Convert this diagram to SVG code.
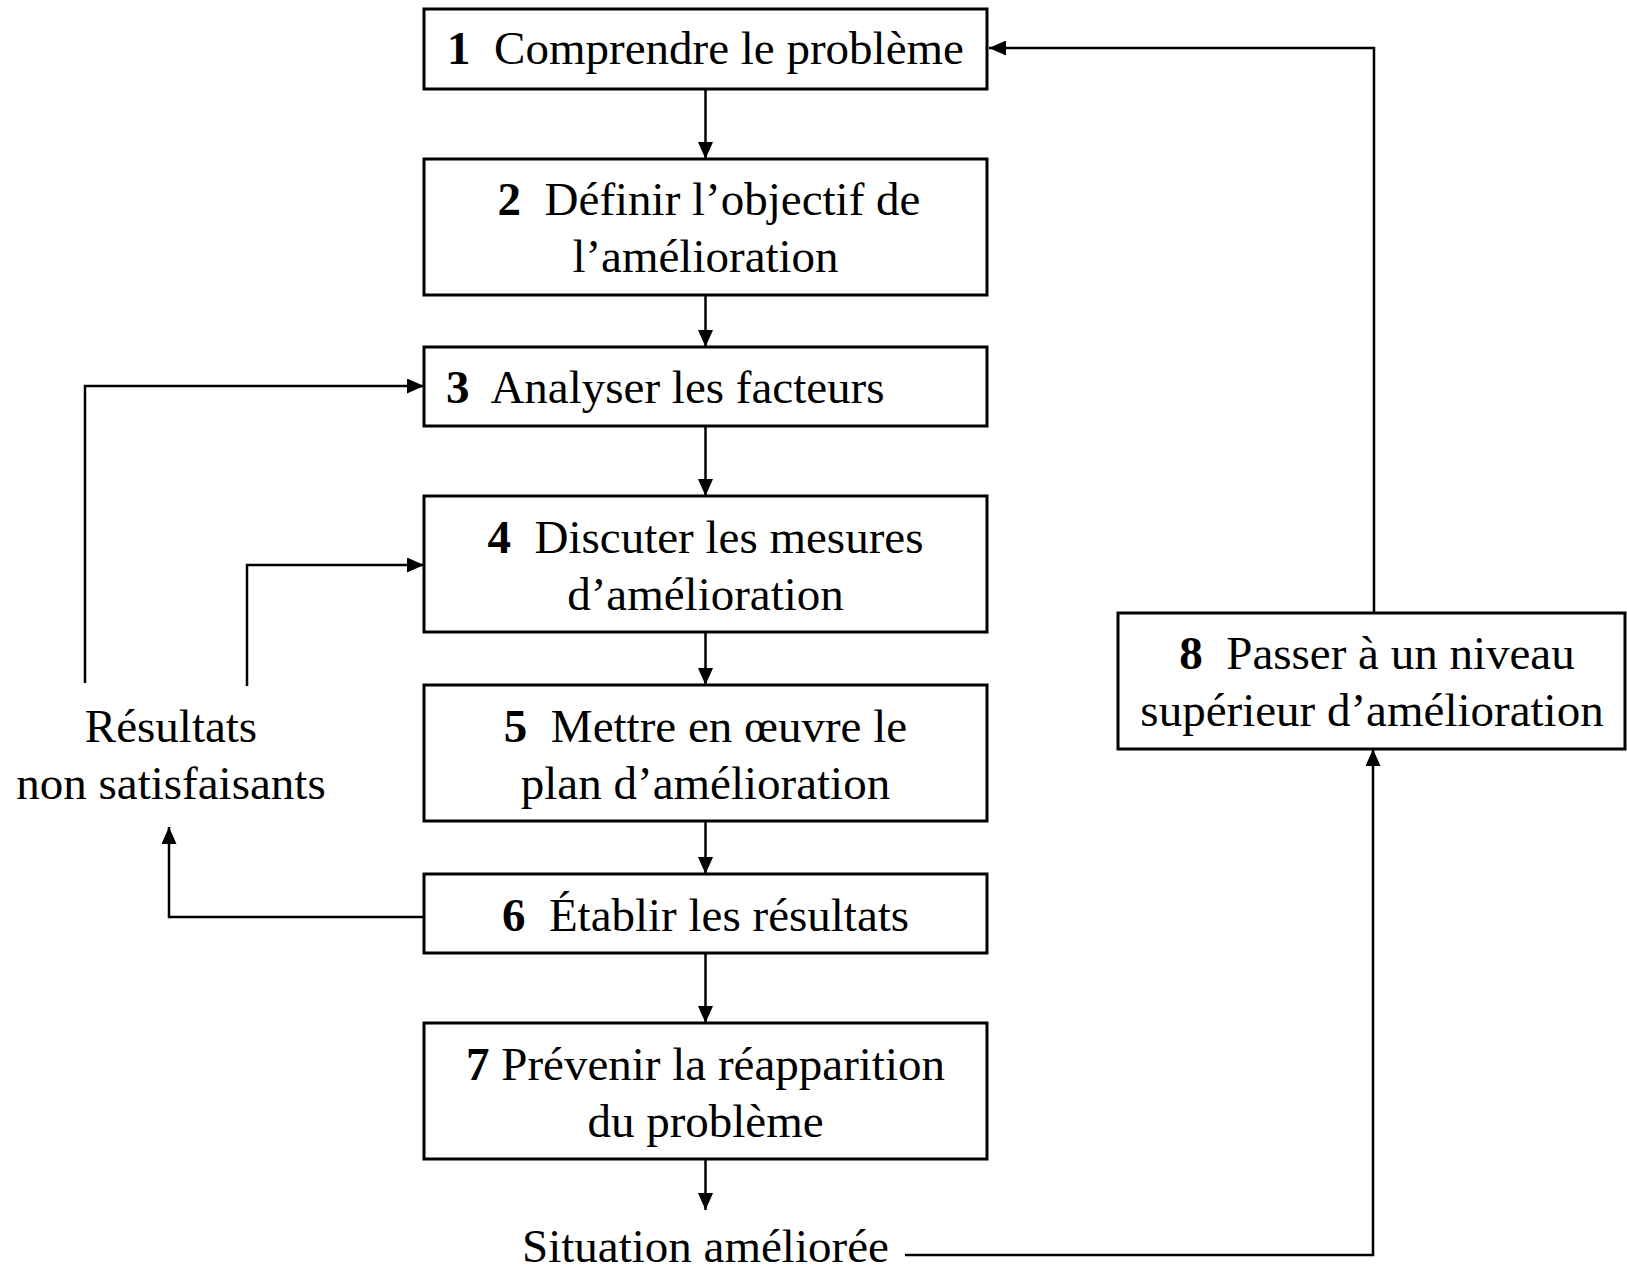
<svg xmlns="http://www.w3.org/2000/svg" width="1627" height="1271" viewBox="0 0 1627 1271">
  <defs>
    <marker id="arrow" markerUnits="userSpaceOnUse" markerWidth="18" markerHeight="15" refX="17" refY="7.5" orient="auto">
      <path d="M0,0 L17,7.5 L0,15 z" fill="#000"/>
    </marker>
    <style>
      .box { fill: #fff; stroke: #000; stroke-width: 3; }
      .lbl { font-family: "Liberation Serif", "Times New Roman", serif; font-size: 47px; fill: #000; }
      .mid { text-anchor: middle; }
      .num { font-weight: bold; }
      .link { fill: none; stroke: #000; stroke-width: 2.5; }
      .head { marker-end: url(#arrow); }
    </style>
  </defs>
  <rect width="1627" height="1271" fill="#fff"/>

  <g id="connectors">
    <!-- main chain -->
    <line class="link head" x1="705.5" y1="89" x2="705.5" y2="159"/>
    <line class="link head" x1="705.5" y1="295" x2="705.5" y2="347"/>
    <line class="link head" x1="705.5" y1="426" x2="705.5" y2="496"/>
    <line class="link head" x1="705.5" y1="632" x2="705.5" y2="685"/>
    <line class="link head" x1="705.5" y1="821" x2="705.5" y2="874"/>
    <line class="link head" x1="705.5" y1="953" x2="705.5" y2="1023"/>
    <line class="link head" x1="705.5" y1="1159" x2="705.5" y2="1210"/>
    <!-- unsatisfactory results loops -->
    <polyline class="link head" points="85,683 85,386 424,386"/>
    <polyline class="link head" points="247,686 247,565 424,565"/>
    <polyline class="link head" points="428,917 169,917 169,827"/>
    <!-- improved situation to next level, and back to step 1 -->
    <polyline class="link head" points="905,1255 1373,1255 1373,749"/>
    <polyline class="link head" points="1374,613 1374,48 989,48"/>
  </g>

  <g id="step1">
    <rect class="box" x="424" y="9" width="563" height="80"/>
    <text class="lbl mid" x="705.5" y="64" xml:space="preserve"><tspan class="num">1</tspan>  Comprendre le problème</text>
  </g>
  <g id="step2">
    <rect class="box" x="424" y="159" width="563" height="136"/>
    <text class="lbl mid" x="709" y="215" xml:space="preserve"><tspan class="num">2</tspan>  Définir l’objectif de</text>
    <text class="lbl mid" x="705.5" y="272">l’amélioration</text>
  </g>
  <g id="step3">
    <rect class="box" x="424" y="347" width="563" height="79"/>
    <text class="lbl" x="446" y="403" xml:space="preserve"><tspan class="num">3</tspan>  Analyser les facteurs</text>
  </g>
  <g id="step4">
    <rect class="box" x="424" y="496" width="563" height="136"/>
    <text class="lbl mid" x="705.5" y="553" xml:space="preserve"><tspan class="num">4</tspan>  Discuter les mesures</text>
    <text class="lbl mid" x="705.5" y="610">d’amélioration</text>
  </g>
  <g id="step5">
    <rect class="box" x="424" y="685" width="563" height="136"/>
    <text class="lbl mid" x="705.5" y="742" xml:space="preserve"><tspan class="num">5</tspan>  Mettre en œuvre le</text>
    <text class="lbl mid" x="705.5" y="799">plan d’amélioration</text>
  </g>
  <g id="step6">
    <rect class="box" x="424" y="874" width="563" height="79"/>
    <text class="lbl mid" x="705.5" y="931" xml:space="preserve"><tspan class="num">6</tspan>  Établir les résultats</text>
  </g>
  <g id="step7">
    <rect class="box" x="424" y="1023" width="563" height="136"/>
    <text class="lbl mid" x="705.5" y="1080" xml:space="preserve"><tspan class="num">7</tspan> Prévenir la réapparition</text>
    <text class="lbl mid" x="705.5" y="1137">du problème</text>
  </g>
  <g id="step8">
    <rect class="box" x="1118" y="613" width="507" height="136"/>
    <text class="lbl mid" x="1377" y="669" xml:space="preserve"><tspan class="num">8</tspan>  Passer à un niveau</text>
    <text class="lbl mid" x="1372" y="726">supérieur d’amélioration</text>
  </g>
  <g id="results">
    <text class="lbl mid" x="171" y="742">Résultats</text>
    <text class="lbl mid" x="171" y="799">non satisfaisants</text>
  </g>
  <g id="situation">
    <text class="lbl mid" x="705.5" y="1262">Situation améliorée</text>
  </g>
</svg>
